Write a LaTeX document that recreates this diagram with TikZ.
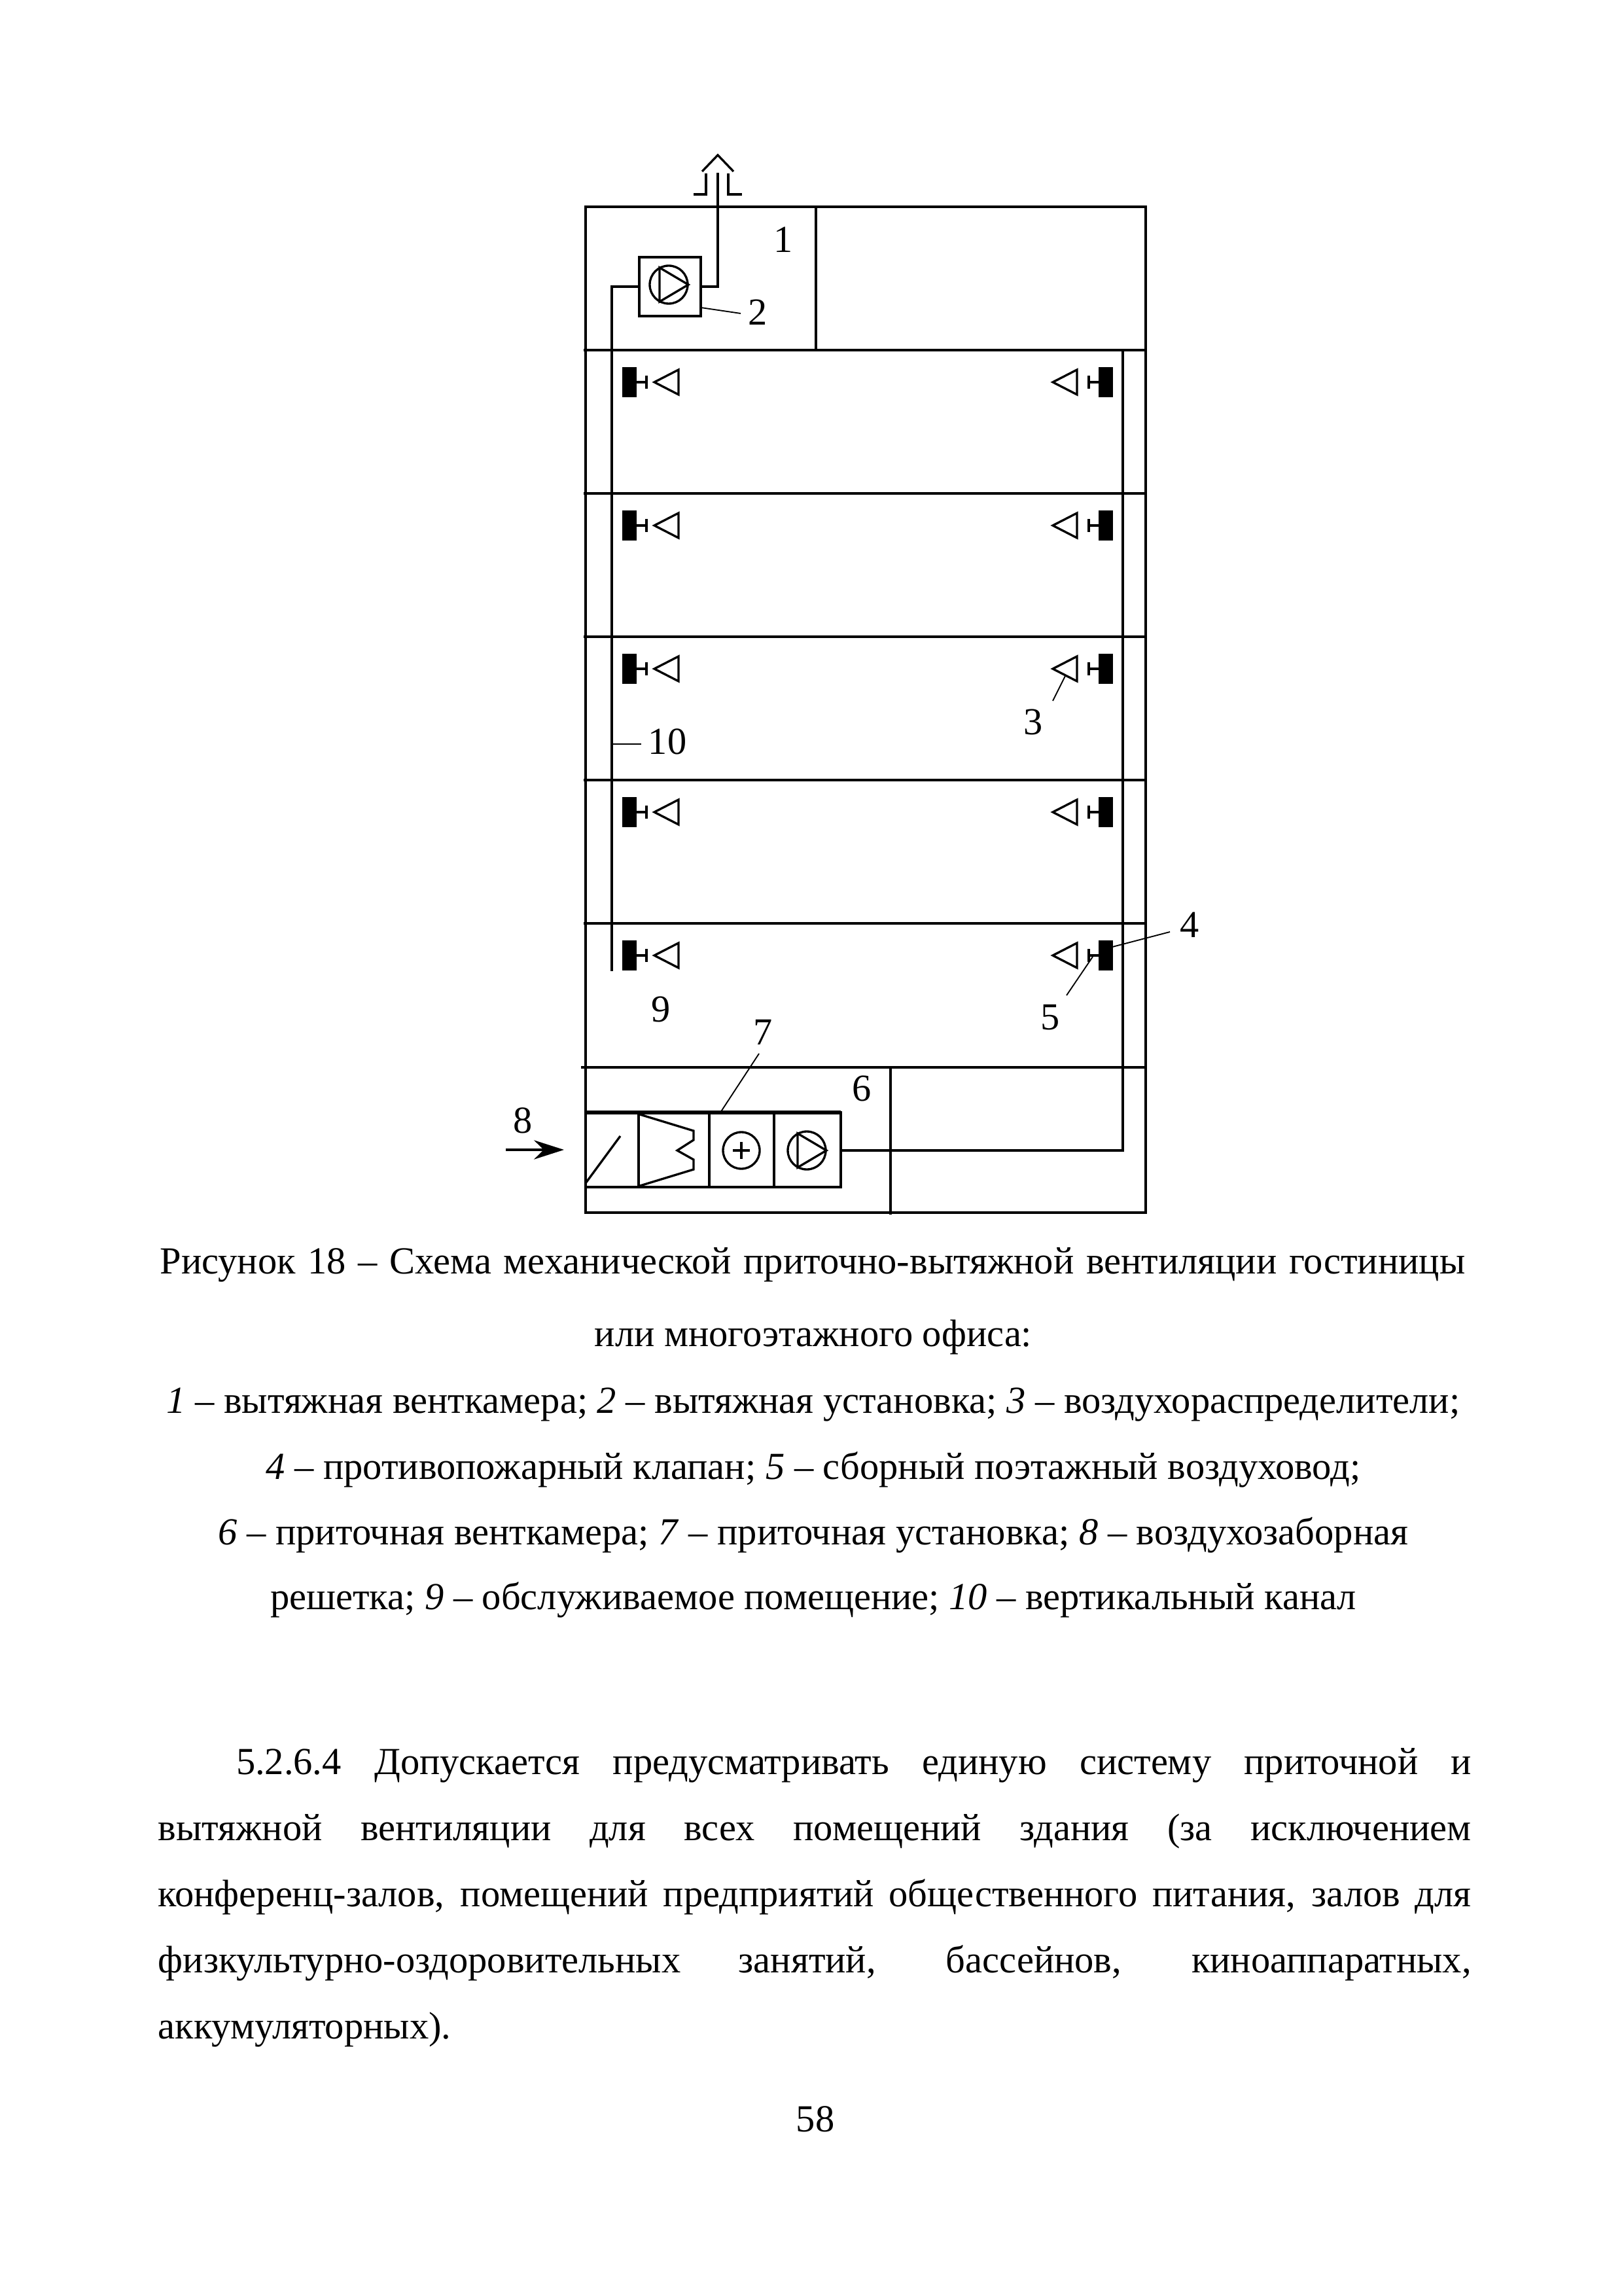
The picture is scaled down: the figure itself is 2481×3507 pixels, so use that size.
\documentclass[tikz,border=0pt]{standalone}
\usepackage{fontspec}
\setmainfont{Liberation Serif}
\usetikzlibrary{arrows.meta}

\tikzset{
  wall/.style={line width=0.9pt},
  duct/.style={line width=0.8pt},
  lead/.style={line width=0.45pt},
  num/.style={font=\fontsize{14pt}{16pt}\selectfont, inner sep=0pt},
  captionline/.style={font=\fontsize{14.04pt}{16pt}\selectfont, inner sep=0pt, anchor=base},
  bodytext/.style={font=\fontsize{14.04pt}{24.2pt}\selectfont, inner sep=0pt, anchor=north west,
    text width=481.7pt, align=justify},
  grille/.pic={
    \fill (0,-23) rectangle (22,23);
    \draw [duct] (22,0) -- (37,0);
    \draw [duct] (37,-10) -- (37,10);
  },
  diffuser/.pic={
    \draw [duct] (0,0) -- (37,-19) -- (37,19) -- cycle;
  },
  fansym/.pic={
    \draw [duct] (0,0) circle (29);
    \draw [duct] (-14,-26) -- (-14,26) -- (30,0) -- cycle;
  },
}

\begin{document}
\begin{tikzpicture}[x=0.24pt, y=-0.24pt]
  \useasboundingbox (0,0) rectangle (2481,3507);

  % building
  \draw [wall] (895,316) rectangle (1751,1853);
  \draw [wall] (1247,316) -- (1247,535);
  \draw [wall] (1361,1631) -- (1361,1856);
  \draw [wall] (888,1631) -- (1751,1631);
  \foreach \fy in {535,754,973,1192,1411} {
    \draw [wall] (892,\fy) -- (1751,\fy);
    \pic at (951,\fy+49) {grille};
    \pic at (1000,\fy+49) {diffuser};
    \pic [xscale=-1] at (1701,\fy+49) {grille};
    \pic at (1609,\fy+49) {diffuser};
  }

  % exhaust
  \coordinate (exIn) at (977,438);
  \coordinate (exOut) at (1071,438);
  \coordinate (exTop) at (1097,264);
  \draw [wall] (977,393) rectangle (1071,483);
  \pic at (1022,435) {fansym};
  \draw [duct] (exIn) -- (935,438) -- (935,1484);
  \draw [duct] (exOut) -- (1097,438) -- (exTop);
  \draw [duct] (1073,262) -- (1097,237) -- (1121,262);
  \draw [duct] (1060,297) -- (1079,297) -- (1079,265);
  \draw [duct] (1113,265) -- (1113,297) -- (1134,297);

  % supply unit
  \coordinate (supOut) at (1285,1758);
  \draw [wall] (895,1700) -- (1285,1700) -- (1285,1814) -- (895,1814);
  \draw [line width=1.3pt] (895,1700) -- (1285,1700);
  \draw [line width=1pt] (976,1700) -- (976,1814);
  \draw [duct] (1084,1700) -- (1084,1814);
  \draw [duct] (1183,1700) -- (1183,1814);
  \draw [duct] (895,1808) -- (948,1736);
  \draw [duct] (978,1703) -- (1060,1728) -- (1060,1742) -- (1035,1758) -- (1060,1772) -- (1060,1787) -- (978,1812);
  \draw [duct] (1133,1758) circle (28);
  \draw [duct] (1120,1758) -- (1146,1758);
  \draw [duct] (1133,1745) -- (1133,1771);
  \pic at (1233,1758) {fansym};
  \draw [duct] (supOut) -- (1716,1758) -- (1716,535);

  % numbers
  \node [num] (n1) at (1197,366) {1};
  \node [num] (n2) at (1158,477) {2};
  \node [num] (n3) at (1579,1103) {3};
  \node [num] (n4) at (1818,1413) {4};
  \node [num] (n5) at (1605,1555) {5};
  \node [num] (n6) at (1317,1663) {6};
  \node [num] (n7) at (1166,1577) {7};
  \node [num] (n8) at (799,1712) {8};
  \node [num] (n9) at (1010,1542) {9};
  \node [num] (n10) at (1020,1133) {10};

  % leaders
  \coordinate (a2) at (1071,470);
  \coordinate (a3) at (1628,1033);
  \coordinate (a4) at (1700,1447);
  \coordinate (a5) at (1670,1462);
  \coordinate (a7) at (1101,1700);
  \coordinate (a10) at (935,1137);
  \draw [lead] (a2) -- (1132,479);
  \draw [lead] (a3) -- (1609,1071);
  \draw [lead] (a4) -- (1788,1424);
  \draw [lead] (a5) -- (1630,1521);
  \draw [lead] (a7) -- (1160,1610);
  \draw [lead] (a10) -- (980,1137);

  % intake
  \coordinate (inA) at (773,1757);
  \coordinate (inB) at (862,1757);
  \draw [line width=1.1pt, -{Stealth[length=11pt, width=7pt]}] (inA) -- (inB);

  % caption
  \node [captionline] (cap1) at (1242,1946) {\hbox to 478.8pt{Рисунок 18 -- Схема механической приточно-вытяжной вентиляции гостиницы}};
  \node [captionline] (cap2) at (1243,2057) {или многоэтажного офиса:};
  \node [captionline] (cap3) at (1243,2159) {\textit{1} -- вытяжная венткамера; \textit{2} -- вытяжная установка; \textit{3} -- воздухораспределители;};
  \node [captionline] (cap4) at (1243,2260) {\textit{4} -- противопожарный клапан; \textit{5} -- сборный поэтажный воздуховод;};
  \node [captionline] (cap5) at (1243,2360) {\textit{6} -- приточная венткамера; \textit{7} -- приточная установка; \textit{8} -- воздухозаборная};
  \node [captionline] (cap6) at (1243,2459) {решетка; \textit{9} -- обслуживаемое помещение; \textit{10} -- вертикальный канал};

  % text below
  \node [bodytext] (body) at (241,2671) {\hspace*{28.6pt}5.2.6.4 Допускается предусматривать единую систему приточной и\linebreak
    вытяжной вентиляции для всех помещений здания (за исключением\linebreak
    конференц-залов, помещений предприятий общественного питания, залов для\linebreak
    физкультурно-оздоровительных занятий, бассейнов, киноаппаратных,\linebreak
    аккумуляторных).};
  \node [captionline] (page) at (1246,3257) {58};
\end{tikzpicture}
\end{document}
